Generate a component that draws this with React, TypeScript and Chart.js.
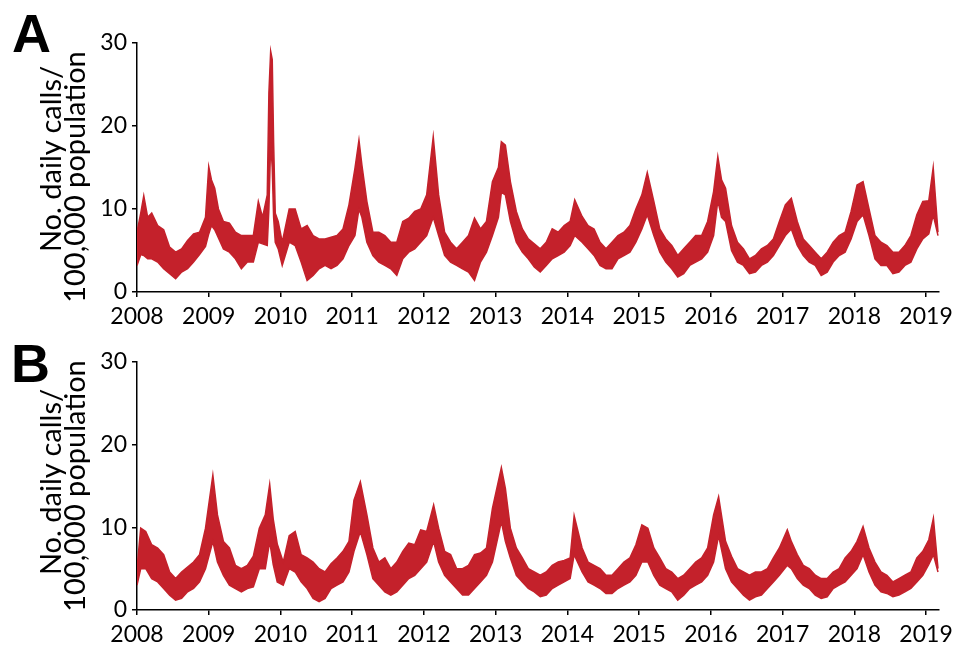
import React, { useEffect, useRef } from "react";
import { Chart, registerables } from "chart.js";

Chart.register(...registerables);

const RED = "#C4212B";
const FONT = "Lato";

const yearTicks = [2008, 2009, 2010, 2011, 2012, 2013, 2014, 2015, 2016, 2017, 2018, 2019];
const yTicks = [0, 10, 20, 30];
const yTitleLine1 = "No. daily calls/";
const yTitleLine2 = "100,000 population";

// Panel A: sampled dates with upper and lower edges of the daily band
const datesA = [
  "2008-01-01", "2008-01-20", "2008-02-05", "2008-02-25", "2008-03-15", "2008-04-15", "2008-05-15", "2008-06-15",
  "2008-07-15", "2008-08-15", "2008-09-15", "2008-10-15", "2008-11-15", "2008-12-15", "2009-01-01", "2009-01-15",
  "2009-02-01", "2009-02-20", "2009-03-15", "2009-04-15", "2009-05-15", "2009-06-15", "2009-07-15", "2009-08-15",
  "2009-09-10", "2009-10-01", "2009-10-25", "2009-11-03", "2009-11-12", "2009-11-20", "2009-11-27", "2009-12-05",
  "2009-12-20", "2010-01-10", "2010-02-15", "2010-03-15", "2010-04-15", "2010-05-15", "2010-06-15", "2010-07-15",
  "2010-08-15", "2010-09-15", "2010-10-15", "2010-11-15", "2010-12-15", "2011-01-15", "2011-02-05", "2011-02-20",
  "2011-03-15", "2011-04-15", "2011-05-15", "2011-06-15", "2011-07-15", "2011-08-15", "2011-09-15", "2011-10-15",
  "2011-11-15", "2011-12-15", "2012-01-15", "2012-02-18", "2012-03-15", "2012-04-15", "2012-05-15", "2012-06-15",
  "2012-07-15", "2012-08-15", "2012-09-15", "2012-10-15", "2012-11-15", "2012-12-15", "2013-01-15", "2013-01-30",
  "2013-02-20", "2013-03-15", "2013-04-15", "2013-05-15", "2013-06-15", "2013-07-15", "2013-08-15", "2013-09-15",
  "2013-10-15", "2013-11-15", "2013-12-15", "2014-01-15", "2014-02-08", "2014-03-15", "2014-04-15", "2014-05-15",
  "2014-06-15", "2014-07-15", "2014-08-15", "2014-09-15", "2014-10-15", "2014-11-15", "2014-12-15", "2015-01-15",
  "2015-02-12", "2015-03-15", "2015-04-15", "2015-05-15", "2015-06-15", "2015-07-15", "2015-08-15", "2015-09-15",
  "2015-10-15", "2015-11-15", "2015-12-15", "2016-01-15", "2016-02-06", "2016-02-25", "2016-03-15", "2016-04-15",
  "2016-05-15", "2016-06-15", "2016-07-15", "2016-08-15", "2016-09-15", "2016-10-15", "2016-11-15", "2016-12-15",
  "2017-01-15", "2017-02-15", "2017-03-15", "2017-04-15", "2017-05-15", "2017-06-15", "2017-07-15", "2017-08-15",
  "2017-09-15", "2017-10-15", "2017-11-15", "2017-12-15", "2018-01-15", "2018-02-15", "2018-03-15", "2018-04-15",
  "2018-05-15", "2018-06-15", "2018-07-15", "2018-08-15", "2018-09-15", "2018-10-15", "2018-11-15", "2018-12-15",
  "2019-01-15", "2019-02-07", "2019-03-01",
];
const hiA = [
  7.2, 9.5, 11.6, 9.0, 9.5, 8.0, 7.5, 5.4,
  4.8, 5.2, 6.2, 7.0, 7.2, 9.0, 15.1, 13.5,
  12.5, 10.0, 8.5, 8.3, 7.2, 6.8, 6.8, 6.8,
  10.9, 9.0, 11.7, 24.0, 29.0, 28.0, 18.0, 9.5,
  8.5, 6.0, 10.0, 10.0, 7.6, 8.0, 6.8, 6.4,
  6.4, 6.6, 6.8, 7.6, 10.5, 14.9, 18.3, 15.3,
  10.9, 7.2, 7.2, 6.8, 6.0, 6.0, 8.5, 8.9,
  9.7, 10.0, 11.7, 18.7, 11.7, 7.2, 6.0, 5.2,
  6.0, 6.8, 8.9, 7.6, 8.5, 13.3, 15.0, 18.1,
  17.7, 13.3, 9.7, 7.6, 6.4, 5.8, 5.2, 6.0,
  7.6, 7.2, 8.0, 8.5, 11.1, 9.1, 8.0, 7.6,
  6.0, 5.2, 6.0, 6.8, 7.2, 8.0, 10.0, 11.7,
  14.4, 10.9, 7.6, 6.4, 5.6, 4.4, 5.2, 6.0,
  6.8, 6.8, 8.5, 12.1, 16.3, 13.5, 12.5, 8.0,
  6.0, 5.2, 4.0, 4.4, 5.2, 5.6, 6.4, 8.5,
  10.5, 11.3, 8.5, 6.4, 5.6, 4.8, 4.0, 4.8,
  6.0, 6.8, 7.2, 9.7, 12.9, 13.3, 10.0, 6.8,
  6.0, 5.6, 4.8, 4.8, 5.6, 6.8, 9.3, 10.9,
  11.0, 15.0, 7.2,
];
const loA = [
  3.2, 4.5, 4.4, 4.0, 4.0, 3.6, 2.8, 2.2,
  1.6, 2.4, 2.8, 3.6, 4.5, 5.5, 7.0, 8.0,
  7.5, 6.5, 5.2, 4.8, 4.0, 2.8, 3.6, 3.6,
  6.0, 5.8, 5.6, 10.0, 18.0, 15.0, 9.0, 6.0,
  5.2, 3.2, 6.0, 5.6, 3.6, 1.4, 2.0, 2.8,
  3.2, 2.8, 3.2, 4.0, 5.6, 6.8, 10.0, 9.0,
  6.0, 4.4, 3.6, 3.2, 2.8, 2.0, 4.0, 4.8,
  5.2, 6.0, 6.8, 9.0, 6.8, 4.4, 3.6, 3.2,
  2.8, 2.4, 1.4, 3.6, 4.8, 6.8, 9.0, 12.0,
  11.7, 8.5, 6.0, 4.8, 4.0, 3.0, 2.4, 3.2,
  4.0, 4.4, 4.8, 5.6, 6.8, 6.0, 5.2, 4.4,
  3.2, 2.8, 2.8, 4.0, 4.4, 4.8, 6.0, 7.6,
  9.3, 6.8, 4.8, 3.6, 2.8, 1.8, 2.2, 3.2,
  3.6, 4.0, 4.8, 6.8, 11.0, 9.0, 8.5, 5.0,
  3.6, 3.2, 2.2, 2.4, 3.2, 3.6, 4.4, 5.6,
  6.8, 7.6, 5.6, 4.4, 3.6, 3.2, 2.0, 2.4,
  3.6, 4.4, 4.8, 6.4, 8.5, 9.3, 6.8, 4.0,
  3.2, 3.2, 2.2, 2.4, 3.2, 3.6, 5.2, 6.4,
  7.0, 9.3, 6.8,
];

// Panel B: sampled dates with upper and lower edges of the daily band
const datesB = [
  "2008-01-01", "2008-01-20", "2008-02-15", "2008-03-15", "2008-04-15", "2008-05-15", "2008-06-15", "2008-07-15",
  "2008-08-15", "2008-09-15", "2008-10-15", "2008-11-15", "2008-12-15", "2009-01-22", "2009-02-15", "2009-03-15",
  "2009-04-15", "2009-05-15", "2009-06-15", "2009-07-15", "2009-08-15", "2009-09-15", "2009-10-15", "2009-11-07",
  "2009-11-25", "2009-12-15", "2010-01-15", "2010-02-15", "2010-03-15", "2010-04-15", "2010-05-15", "2010-06-15",
  "2010-07-15", "2010-08-15", "2010-09-15", "2010-10-15", "2010-11-15", "2010-12-15", "2011-01-10", "2011-02-12",
  "2011-03-15", "2011-04-15", "2011-05-15", "2011-06-15", "2011-07-15", "2011-08-15", "2011-09-15", "2011-10-15",
  "2011-11-15", "2011-12-15", "2012-01-15", "2012-02-20", "2012-03-15", "2012-04-15", "2012-05-15", "2012-06-15",
  "2012-07-15", "2012-08-15", "2012-09-15", "2012-10-15", "2012-11-15", "2012-12-15", "2013-01-30", "2013-02-20",
  "2013-03-15", "2013-04-15", "2013-05-15", "2013-06-15", "2013-07-15", "2013-08-15", "2013-09-15", "2013-10-15",
  "2013-11-15", "2013-12-15", "2014-01-15", "2014-02-05", "2014-03-15", "2014-04-15", "2014-05-15", "2014-06-15",
  "2014-07-15", "2014-08-15", "2014-09-15", "2014-10-15", "2014-11-15", "2014-12-15", "2015-01-15", "2015-02-15",
  "2015-03-15", "2015-04-15", "2015-05-15", "2015-06-15", "2015-07-15", "2015-08-15", "2015-09-15", "2015-10-15",
  "2015-11-15", "2015-12-15", "2016-01-15", "2016-02-10", "2016-03-15", "2016-04-15", "2016-05-15", "2016-06-15",
  "2016-07-15", "2016-08-15", "2016-09-15", "2016-10-15", "2016-11-15", "2016-12-15", "2017-01-25", "2017-02-15",
  "2017-03-15", "2017-04-15", "2017-05-15", "2017-06-15", "2017-07-15", "2017-08-15", "2017-09-15", "2017-10-15",
  "2017-11-15", "2017-12-15", "2018-01-15", "2018-02-15", "2018-03-15", "2018-04-15", "2018-05-15", "2018-06-15",
  "2018-07-15", "2018-08-15", "2018-09-15", "2018-10-15", "2018-11-15", "2018-12-15", "2019-01-15", "2019-02-08",
  "2019-03-01",
];
const hiB = [
  5.0, 9.9, 9.5, 7.9, 7.5, 6.7, 4.6, 3.8,
  4.6, 5.2, 5.8, 6.7, 9.9, 16.3, 11.5, 8.3,
  7.5, 5.4, 5.0, 5.4, 6.5, 9.9, 11.5, 15.2,
  11.0, 8.0, 5.8, 9.0, 9.5, 6.7, 6.3, 5.8,
  5.0, 4.6, 5.6, 6.3, 7.1, 8.3, 13.3, 15.5,
  11.5, 7.5, 5.8, 6.3, 5.0, 5.8, 7.1, 8.1,
  7.9, 9.7, 9.5, 12.7, 9.9, 7.1, 6.7, 5.0,
  5.0, 5.4, 6.7, 6.9, 7.5, 12.3, 17.2, 14.7,
  9.9, 7.5, 6.3, 5.0, 4.6, 4.2, 4.6, 5.4,
  5.8, 6.0, 6.3, 11.4, 7.5, 5.8, 5.4, 5.0,
  4.2, 4.2, 5.0, 5.8, 6.3, 7.9, 10.3, 9.9,
  7.5, 6.3, 5.0, 4.6, 3.8, 4.2, 5.0, 5.8,
  6.3, 7.5, 11.5, 13.7, 8.3, 6.5, 5.0, 4.6,
  4.2, 4.6, 4.6, 5.0, 6.3, 7.5, 9.7, 8.3,
  6.7, 5.4, 5.0, 4.2, 3.8, 3.8, 4.6, 5.0,
  6.3, 7.1, 8.3, 10.1, 7.5, 5.8, 4.6, 4.2,
  3.4, 3.8, 4.2, 4.6, 6.3, 7.1, 8.5, 11.1,
  5.0,
];
const loB = [
  3.0, 5.0, 5.0, 3.8, 3.4, 2.6, 1.8, 1.2,
  1.4, 2.2, 2.6, 3.4, 5.0, 8.3, 5.8, 4.2,
  3.0, 2.6, 2.2, 2.6, 2.8, 5.0, 5.0, 8.3,
  5.5, 3.4, 3.0, 5.0, 4.6, 3.4, 2.6, 1.4,
  1.0, 1.4, 2.6, 3.0, 3.4, 4.6, 7.1, 9.5,
  6.7, 3.8, 3.0, 2.2, 1.8, 2.2, 3.0, 3.8,
  4.2, 5.0, 5.8, 8.3, 5.8, 4.2, 3.4, 2.6,
  1.8, 1.8, 2.6, 3.4, 4.2, 5.8, 10.7, 8.3,
  6.3, 4.2, 3.4, 2.6, 2.2, 1.6, 1.8, 2.6,
  3.0, 3.4, 3.8, 6.7, 4.6, 3.4, 3.0, 2.6,
  2.0, 2.0, 2.6, 3.0, 3.4, 4.2, 5.8, 5.8,
  4.2, 3.0, 2.6, 2.2, 1.2, 1.8, 2.6, 3.0,
  3.4, 4.2, 5.8, 9.0, 5.0, 3.4, 2.6, 1.8,
  1.2, 1.6, 1.8, 2.6, 3.4, 4.2, 5.4, 5.0,
  3.8, 3.0, 2.6, 1.8, 1.4, 1.6, 2.6, 3.0,
  3.4, 4.2, 5.0, 6.7, 4.6, 3.0, 2.2, 2.0,
  1.6, 1.8, 2.2, 2.6, 3.4, 4.2, 5.5, 6.7,
  4.6,
];

function toYear(s: string): number {
  const [y, m, d] = s.split("-").map(Number);
  return y + (m - 1) / 12 + (d - 1) / 365;
}

type PanelProps = {
  dates: string[];
  hi: number[];
  lo: number[];
  top: number;
  height: number;
  padTop: number;
  padBottom: number;
  xHeight: number;
};

function Panel({ dates, hi, lo, top, height, padTop, padBottom, xHeight }: PanelProps) {
  const ref = useRef<HTMLCanvasElement | null>(null);
  useEffect(() => {
    if (!ref.current) return;
    const xs = dates.map(toYear);
    const chart = new Chart(ref.current, {
      type: "line",
      data: {
        datasets: [
          {
            data: xs.map((x, i) => ({ x, y: lo[i] })),
            borderColor: RED,
            borderWidth: 1.5,
            pointRadius: 0,
            tension: 0,
            fill: false,
          },
          {
            data: xs.map((x, i) => ({ x, y: hi[i] })),
            borderColor: RED,
            backgroundColor: RED,
            borderWidth: 1.5,
            pointRadius: 0,
            tension: 0,
            fill: "-1",
          },
        ],
      },
      options: {
        responsive: false,
        animation: false,
        events: [],
        layout: { padding: { left: 20, top: padTop, right: 17, bottom: padBottom } },
        plugins: { legend: { display: false }, tooltip: { enabled: false } },
        scales: {
          x: {
            type: "linear",
            min: 2008,
            max: 2019.18,
            afterBuildTicks: (s: any) => {
              s.ticks = yearTicks.map((v) => ({ value: v }));
            },
            afterFit: (s: any) => {
              s.height = xHeight;
            },
            grid: { display: true, drawOnChartArea: false, drawTicks: true, tickLength: 5, color: "#000", lineWidth: 1.5 },
            border: { display: true, color: "#000", width: 1.5 },
            ticks: {
              color: "#000",
              font: { family: FONT, size: 23 },
              padding: 6,
              maxRotation: 0,
              autoSkip: false,
              callback: (v: any) => String(v),
            },
          },
          y: {
            type: "linear",
            min: 0,
            max: 30,
            afterBuildTicks: (s: any) => {
              s.ticks = yTicks.map((v) => ({ value: v }));
            },
            afterFit: (s: any) => {
              s.width = 117;
            },
            grid: { display: true, drawOnChartArea: false, drawTicks: true, tickLength: 5, color: "#000", lineWidth: 1.5 },
            border: { display: true, color: "#000", width: 1.5 },
            ticks: {
              color: "#000",
              font: { family: FONT, size: 23 },
              padding: 5,
              callback: (v: any) => String(v),
            },
          },
        },
      },
    });
    return () => chart.destroy();
  }, [dates, hi, lo, padTop, padBottom, xHeight]);
  return (
    <canvas
      ref={ref}
      width={959}
      height={height}
      style={{ position: "absolute", left: 0, top, display: "block" }}
    />
  );
}

function RotLabel({ text, cx, cy }: { text: string; cx: number; cy: number }) {
  return (
    <div
      style={{
        position: "absolute",
        left: cx,
        top: cy,
        transform: "translate(-50%, -50%) rotate(-90deg)",
        whiteSpace: "nowrap",
        fontFamily: FONT,
        fontSize: 29,
        lineHeight: "29px",
        color: "#000",
      }}
    >
      {text}
    </div>
  );
}

function PanelLetter({ text, left, top }: { text: string; left: number; top: number }) {
  return (
    <div
      style={{
        position: "absolute",
        left,
        top,
        fontFamily: "Liberation Sans, Arial, sans-serif",
        fontWeight: "bold",
        fontSize: 54,
        lineHeight: "54px",
        color: "#000",
      }}
    >
      {text}
    </div>
  );
}

export default function App() {
  return (
    <div
      style={{
        position: "absolute",
        left: 0,
        top: 0,
        width: 959,
        height: 645,
        background: "#fff",
        overflow: "hidden",
      }}
    >
      <Panel dates={datesA} hi={hiA} lo={loA} top={0} height={334} padTop={43} padBottom={2} xHeight={40} />
      <Panel dates={datesB} hi={hiB} lo={loB} top={334} height={311} padTop={28} padBottom={0} xHeight={35} />
      <PanelLetter text="A" left={12} top={6} />
      <PanelLetter text="B" left={11} top={336} />
      <RotLabel text={yTitleLine1} cx={49} cy={159} />
      <RotLabel text={yTitleLine2} cx={73} cy={177} />
      <RotLabel text={yTitleLine1} cx={49} cy={482} />
      <RotLabel text={yTitleLine2} cx={73} cy={486} />
    </div>
  );
}
